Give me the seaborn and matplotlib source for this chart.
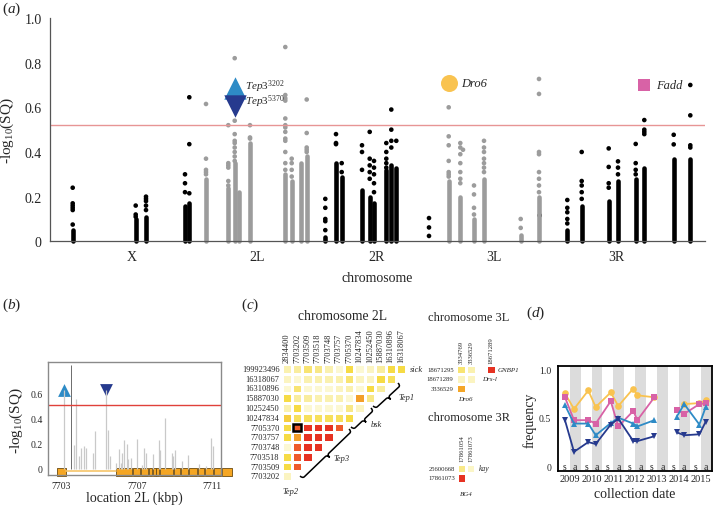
# -------- Imports --------
import numpy as np
import pandas as pd
import matplotlib
matplotlib.use("Agg")
import matplotlib.pyplot as plt
import seaborn as sns
from matplotlib.path import Path
from matplotlib.patches import PathPatch, Rectangle
from matplotlib.colors import LinearSegmentedColormap

sns.set_style("white")
plt.rcParams["font.family"] = ["Liberation Serif", "DejaVu Serif"]
plt.rcParams["mathtext.fontset"] = "custom"
plt.rcParams["mathtext.rm"] = "Liberation Serif"
plt.rcParams["mathtext.it"] = "Liberation Serif:italic"

# -------- Data: panel (a) genome scan --------
chrom_names = ["X", "2L", "2R", "3L", "3R"]
chrom_ticks = [82, 207, 327, 444, 566]
threshold = 0.52

# one entry per SNP column: position, colour group, top of the dense run, separate dots
col_x = [22.7, 85.7, 96, 135, 139.3, 156, 178.3, 184.7, 189.3, 200, 235.3, 241.7, 251.3, 256.7,
         275.3, 286, 291.7, 312, 319.7, 324, 336.3, 341.3, 346.3, 379, 398.7, 410.3, 413, 424,
         434, 470.7, 489, 489.7, 517.3, 531.7, 558.7, 568, 585.7, 594.3, 623.7, 640.3]
col_group = ["odd"] * 5 + ["even"] * 9 + ["odd"] * 10 + ["even"] * 7 + ["odd"] * 9
col_dense_top = [0.05, 0.10, 0.11, 0.16, 0.17, 0.28, 0.24, 0.35, 0.22, 0.44, 0.30, 0.27, 0.35, 0.38,
                 0.02, 0.35, 0.29, 0.23, 0.20, 0.17, 0.32, 0.34, 0.33, 0.0, 0.27, 0.20, 0.0, 0.10,
                 0.28, 0.03, 0.20, 0.0, 0.05, 0.16, 0.18, 0.27, 0.28, 0.33, 0.37, 0.37]
col_dots = [
    [0.24, 0.17, 0.16, 0.15, 0.14, 0.075],
    [0.16, 0.12, 0.11],
    [0.20, 0.19, 0.18, 0.16, 0.14],
    [0.30, 0.26, 0.22],
    [0.645, 0.435, 0.215],
    [0.615, 0.37, 0.32, 0.31, 0.30],
    [0.52, 0.35, 0.34, 0.33, 0.27, 0.25],
    [0.82, 0.54, 0.48, 0.45, 0.44, 0.42, 0.40, 0.38, 0.36],
    [],
    [0.52, 0.465, 0.46],
    [0.87, 0.655, 0.64, 0.63, 0.55, 0.52, 0.51, 0.49, 0.46, 0.45, 0.40, 0.35, 0.32],
    [0.37, 0.35, 0.32, 0.29],
    [],
    [0.635, 0.485, 0.42, 0.41, 0.40],
    [0.19, 0.15, 0.10, 0.09, 0.05],
    [0.48, 0.44, 0.435],
    [0.35, 0.31],
    [0.43, 0.40, 0.32],
    [0.49, 0.37, 0.34, 0.31, 0.28],
    [0.36, 0.33, 0.30, 0.26, 0.22],
    [0.44, 0.40, 0.37, 0.35, 0.33],
    [0.59, 0.50, 0.45, 0.42],
    [0.45],
    [0.104, 0.062, 0.024],
    [0.60, 0.47, 0.43, 0.36, 0.31, 0.30, 0.29],
    [0.44, 0.42, 0.39, 0.35, 0.31, 0.28, 0.26],
    [0.41],
    [0.25, 0.21, 0.15, 0.12],
    [0.45, 0.42, 0.40, 0.37, 0.35, 0.33, 0.31],
    [0.10, 0.06],
    [0.727, 0.66, 0.40, 0.39, 0.31, 0.28, 0.25, 0.22],
    [0.116],
    [0.185, 0.15, 0.13, 0.10, 0.08],
    [0.40, 0.27, 0.25, 0.22, 0.19],
    [0.416, 0.333, 0.26, 0.24],
    [0.358, 0.33, 0.30],
    [0.436, 0.35, 0.32, 0.30],
    [0.543, 0.50, 0.49, 0.48],
    [0.477, 0.434],
    [0.70, 0.564, 0.43, 0.42],
]

# highlighted candidate SNPs
hl_names = ["Tep3_3202", "Tep3_5370", "Dro6", "Fadd"]
hl_x = [184.7, 184.7, 398.7, 594.3]
hl_y = [0.686, 0.605, 0.71, 0.70]
hl_label_y = [0.695, 0.628, 0.71, 0.70]
hl_labels = [r"$\mathit{Tep3}^{3202}$", r"$\mathit{Tep3}^{5370}$", "Dro6", "Fadd"]

# -------- Data: panel (b) Tep3 region --------
b_pos = [7703.65, 7703.75, 7703.94, 7704.02, 7704.20, 7704.33, 7704.69, 7704.77, 7705.49, 7705.58,
         7705.90, 7706.05, 7706.16, 7706.23, 7706.30, 7706.48, 7706.53, 7706.70, 7707.00, 7707.30,
         7707.41, 7707.50, 7707.88, 7708.16, 7708.25, 7708.48, 7708.88, 7708.95, 7709.02, 7709.40,
         7709.70, 7710.30, 7710.69, 7710.96, 7711.05]
b_sq = [0.19, 0.56, 0.10, 0.17, 0.18, 0.17, 0.13, 0.30, 0.31, 0.10,
        0.05, 0.16, 0.05, 0.13, 0.23, 0.20, 0.08, 0.09, 0.24, 0.03,
        0.17, 0.13, 0.12, 0.23, 0.15, 0.41, 0.13, 0.10, 0.15, 0.06,
        0.11, 0.04, 0.02, 0.25, 0.18]
b_peak_pos = 7703.51
b_peak_sq = 0.83
b_tep3_pos = [7703.16, 7705.37]
b_tep3_sq = [0.63, 0.63]
exon_start = [7702.75, 7705.90, 7706.80, 7707.25, 7707.65, 7707.85, 7708.05, 7708.25, 7709.00,
              7709.35, 7709.80, 7710.25, 7710.65, 7711.10, 7711.55]
exon_end = [7703.25, 7706.75, 7707.20, 7707.60, 7707.80, 7708.00, 7708.20, 7708.95, 7709.30,
            7709.75, 7710.20, 7710.60, 7711.05, 7711.50, 7712.05]

# -------- Data: panel (c) linkage heatmaps --------
ld_2L_cols = ["2834400", "7703202", "7703509", "7703518", "7703748", "7703757", "7705370",
              "10247834", "10252450", "15887030", "16310896", "16318067"]
ld_2L_rows = ["199923496", "16318067", "16310896", "15887030", "10252450", "10247834",
              "7705370", "7703757", "7703748", "7703518", "7703509", "7703202"]
ld_2L = [
    [0.15, 0.20, 0.30, 0.25, 0.15, 0.05, 0.40, 0.05, 0.10, 0.20, 0.40, 0.40],
    [0.10, 0.05, 0.15, 0.15, 0.15, 0.15, 0.30, 0.10, 0.10, 0.40, 0.35],
    [0.05, 0.30, 0.05, 0.05, 0.05, 0.10, 0.15, 0.05, 0.40, 0.20],
    [0.40, 0.20, 0.20, 0.15, 0.15, 0.15, 0.05, 0.62, 0.25],
    [0.15, 0.40, 0.05, 0.05, 0.05, 0.05, 0.25, 0.10],
    [0.45, 0.35, 0.35, 0.35, 0.35, 0.35, 0.40],
    [0.40, 0.80, 0.95, 0.95, 0.95, 0.80],
    [0.40, 0.62, 0.95, 0.95, 0.95],
    [0.05, 0.80, 0.95, 0.95],
    [0.40, 0.80, 0.95],
    [0.40, 0.80],
    [0.10],
]
ld_3L_cols = ["3334769", "3336529", "", "18671289"]
ld_3L_rows = ["18671295", "18671289", "3336529"]
ld_3L = [[0.30, 0.15, np.nan, 0.95], [0.10, 0.10], [0.60]]
ld_3R_cols = ["17861054", "17861073"]
ld_3R_rows = ["25600668", "17861073"]
ld_3R = [[0.25, 0.08], [0.95]]

# -------- Data: panel (d) allele frequencies through time --------
sample_date = [0.06, 0.89, 2.2, 2.88, 4.26, 4.95, 6.33, 6.7, 8.26, 10.31, 11.0, 12.39, 12.97]
sample_block = ["2009-13"] * 9 + ["2014-15"] * 4
freq_dro6 = [0.75, 0.59, 0.78, 0.61, 0.76, 0.62, 0.80, 0.73, 0.71, np.nan, 0.64, 0.65, 0.68]
freq_fadd = [0.71, 0.475, 0.475, 0.44, 0.67, 0.41, 0.57, 0.475, 0.71, 0.58, 0.54, 0.64, 0.65]
freq_tep3_3202 = [0.63, 0.44, 0.44, 0.32, 0.445, 0.50, 0.44, 0.41, 0.475, 0.51, 0.64, 0.43, 0.61]
freq_tep3_5370 = [0.475, 0.15, 0.25, 0.23, 0.43, 0.49, 0.26, 0.26, 0.31, 0.35, 0.32, 0.33, 0.46]
years = ["2009", "2010", "2011", "2012", "2013", "2014", "2015"]
seasons = ["s", "a"] * 7

colors = {"Tep3_3202": "#2e8bc6", "Tep3_5370": "#263a8e", "Dro6": "#f9c350", "Fadd": "#d862a6"}
markers = {"Tep3_3202": "^", "Tep3_5370": "v", "Dro6": "o", "Fadd": "s"}

W, H = 713, 506
fig = plt.figure(figsize=(W / 100, H / 100), dpi=100)


def px_axes(x0, y0, x1, y1):
    # axes placed by pixel box (top-left origin)
    return fig.add_axes([x0 / W, 1 - y1 / H, (x1 - x0) / W, (y1 - y0) / H])


def panel_label(x, y, letter):
    fig.text(x / W, 1 - y / H, r"($\mathit{%s}$)" % letter, fontsize=11, ha="left", va="center")


# -------- Panel (a) --------
ax_a = px_axes(50, 19, 705, 242.3)
dots_df = pd.DataFrame(
    [(x, y, g) for x, g, ys in zip(col_x, col_group, col_dots) for y in ys],
    columns=["pos", "sq", "group"],
)
group_colors = {"odd": "black", "even": "#9c9c9c"}
ax_a.vlines(col_x, 0, col_dense_top, colors=[group_colors[g] for g in col_group],
            linewidth=3.3, capstyle="round", clip_on=False)
sns.scatterplot(data=dots_df, x="pos", y="sq", hue="group", palette=group_colors,
                s=11, linewidth=0, legend=False, ax=ax_a, clip_on=False)
ax_a.axhline(threshold, color="#e79595", lw=1)
hl_sizes = {"Tep3_3202": 260, "Tep3_5370": 260, "Dro6": 150, "Fadd": 80}
for name, x, y in zip(hl_names, hl_x, hl_y):
    sns.scatterplot(x=[x], y=[y], marker=markers[name], color=colors[name],
                    s=hl_sizes[name], linewidth=0, ax=ax_a)
for name, x, y, lab in zip(hl_names, hl_x, hl_label_y, hl_labels):
    off = 10 if name.startswith("Tep3") else 12
    ax_a.text(x + off, y, lab, fontsize=8 if name.startswith("Tep3") else 9,
              style="italic", ha="left", va="center")
ax_a.set_xlim(0, 655)
ax_a.set_ylim(0, 1)
ax_a.set_xticks(chrom_ticks)
ax_a.set_xticklabels(chrom_names)
ax_a.set_yticks([0, 0.2, 0.4, 0.6, 0.8, 1.0])
ax_a.set_yticklabels(["0", "0.2", "0.4", "0.6", "0.8", "1.0"])
ax_a.tick_params(labelsize=10, length=3, width=0.8, color="#555555", pad=3)
ax_a.set_xlabel("chromosome", fontsize=10, labelpad=6)
ax_a.set_ylabel(r"-log$_{10}$(SQ)", fontsize=11)
ax_a.yaxis.set_label_coords(-0.052, 0.5)
sns.despine(ax=ax_a)
for s in ["left", "bottom"]:
    ax_a.spines[s].set_color("#555555")
    ax_a.spines[s].set_linewidth(0.9)
panel_label(2, 9, "a")

# -------- Panel (b) --------
ax_b = px_axes(48.3, 362.7, 221, 476)
ax_b.vlines(b_pos, 0, b_sq, colors="#c9c9c9", linewidth=0.9)
ax_b.vlines(b_peak_pos, 0, b_peak_sq, colors="#555555", linewidth=0.6)
ax_b.vlines(b_tep3_pos, 0, b_tep3_sq, colors="#c9c9c9", linewidth=0.9)
ax_b.axhline(threshold - 0.005, color="#e0413a", lw=1)
for name, x, y in zip(["Tep3_3202", "Tep3_5370"], b_tep3_pos, b_tep3_sq):
    sns.scatterplot(x=[x], y=[y], marker=markers[name], color=colors[name],
                    s=85, linewidth=0, ax=ax_b)
ax_b.plot([exon_end[0], exon_start[1]], [-0.016, -0.016], color="#f6c56a", lw=1.2, clip_on=False)
ax_b.broken_barh([(s0, e0 - s0) for s0, e0 in zip(exon_start, exon_end)], (-0.058, 0.063),
                 facecolors="#f5a623", edgecolors="#6b4a10", linewidth=0.6, clip_on=False)
ax_b.set_xlim(7702.3, 7711.48)
ax_b.set_ylim(-0.048, 0.858)
ax_b.set_xticks([7703, 7707, 7711])
ax_b.set_yticks([0, 0.2, 0.4, 0.6])
ax_b.set_yticklabels(["0", "0.2", "0.4", "0.6"])
ax_b.tick_params(labelsize=7, length=2, pad=2)
ax_b.set_xlabel("location 2L (kbp)", fontsize=10, labelpad=1)
ax_b.set_ylabel(r"-log$_{10}$(SQ)", fontsize=11)
ax_b.yaxis.set_label_coords(-0.135, 0.49)
for s in ax_b.spines.values():
    s.set_color("#8a8a8a")
    s.set_linewidth(1)
panel_label(2, 305, "b")

# -------- Panel (c) --------
ld_cmap = LinearSegmentedColormap.from_list(
    "ld", ["#fdfbe2", "#f9ed9e", "#f6db45", "#f4a628", "#ee5a2a", "#e3261f"])


def to_matrix(rows, ncols):
    mat = np.full((len(rows), ncols), np.nan)
    for i, r in enumerate(rows):
        mat[i, :len(r)] = r
    return mat


def ld_heatmap(ax, values, col_labels, row_labels, fs):
    mat = to_matrix(values, len(col_labels))
    sns.heatmap(mat, cmap=ld_cmap, vmin=0, vmax=1, linewidths=1, linecolor="white", cbar=False,
                xticklabels=col_labels, yticklabels=row_labels, ax=ax)
    ax.xaxis.tick_top()
    ax.set_xticklabels(col_labels, rotation=90, fontsize=fs)
    ax.set_yticklabels(row_labels, rotation=0, fontsize=fs)
    ax.tick_params(length=0, pad=1.5)


def brace(ax, p0, p1, h, n):
    p0, p1, n = np.array(p0), np.array(p1), np.array(n)
    u = (p1 - p0) / np.linalg.norm(p1 - p0)
    mid = (p0 + p1) / 2
    d = 0.25
    verts = [p0, p0 + n * h, p0 + n * h + u * d, mid + n * h - u * d, mid + n * h, mid + n * 2 * h,
             mid + n * h, mid + n * h + u * d, p1 + n * h - u * d, p1 + n * h, p1]
    codes = [Path.MOVETO, Path.CURVE3, Path.CURVE3, Path.LINETO, Path.CURVE3, Path.CURVE3,
             Path.CURVE3, Path.CURVE3, Path.LINETO, Path.CURVE3, Path.CURVE3]
    ax.add_patch(PathPatch(Path(verts, codes), fill=False, lw=1.1, color="black", clip_on=False))


ax_c = px_axes(281.5, 365.1, 406.3, 482.2)
ld_heatmap(ax_c, ld_2L, ld_2L_cols, ld_2L_rows, 6)
ax_c.add_patch(Rectangle((1.1, 6.1), 0.8, 0.8, fill=False, lw=1.8, color="black", clip_on=False))
diag = (0.707, 0.707)
brace(ax_c, (1.78, 11.47), (6.49, 6.65), 0.35, diag)
brace(ax_c, (6.68, 6.44), (8.6, 4.5), 0.35, diag)
brace(ax_c, (8.8, 4.29), (11.2, 1.94), 0.35, diag)
for txt, x, y in [("Tep3", 5.0, 9.6), ("bsk", 8.6, 6.1), ("Tep1", 11.2, 3.4), ("sick", 12.3, 0.5),
                  ("Tep2", 0.1, 13.0)]:
    ax_c.text(x, y, txt, fontsize=6, style="italic", ha="left", va="center")
fig.text(343 / W, 1 - 317 / H, "chromosome 2L", fontsize=9.8, ha="center", va="center")
panel_label(241, 305, "c")

ax_3l = px_axes(455.7, 366, 495.7, 394)
ld_heatmap(ax_3l, ld_3L, ld_3L_cols, ld_3L_rows, 4.8)
ax_3l.text(4.2, 0.5, "GNBP1", fontsize=5, style="italic", ha="left", va="center")
ax_3l.text(2.6, 1.5, "Drs-l", fontsize=5, style="italic", ha="left", va="center")
ax_3l.text(0.2, 3.6, "Dro6", fontsize=5, style="italic", ha="left", va="center")
fig.text(469 / W, 1 - 318 / H, "chromosome 3L", fontsize=9, ha="center", va="center")

ax_3r = px_axes(457.2, 464.5, 475.2, 483.8)
ld_heatmap(ax_3r, ld_3R, ld_3R_cols, ld_3R_rows, 4.8)
ax_3r.text(2.4, 0.5, "kay", fontsize=5.5, style="italic", ha="left", va="center")
ax_3r.text(0.3, 3.1, "BG4", fontsize=5, style="italic", ha="left", va="center")
fig.text(469 / W, 1 - 418 / H, "chromosome 3R", fontsize=9, ha="center", va="center")

# -------- Panel (d) --------
ax_d = px_axes(558.3, 367.3, 711.5, 472.3)
for k in range(1, 14, 2):
    ax_d.axvspan(k - 0.5, k + 0.5, color="#dcdcdc", lw=0, zorder=0)
freq_df = pd.concat([
    pd.DataFrame({"date": sample_date, "block": sample_block, "freq": f, "allele": a})
    for a, f in [("Dro6", freq_dro6), ("Fadd", freq_fadd),
                 ("Tep3_3202", freq_tep3_3202), ("Tep3_5370", freq_tep3_5370)]
]).dropna()
sns.lineplot(data=freq_df, x="date", y="freq", hue="allele", style="allele", units="block",
             estimator=None, palette=colors, markers=markers, dashes=False, markersize=4.8,
             markeredgewidth=0, lw=1.3, legend=False, ax=ax_d)
for i, s in enumerate(seasons):
    ax_d.text(i, 0.0, s, fontsize=7, ha="center", va="center")
ax_d.set_xlim(-0.55, 13.5)
ax_d.set_ylim(-0.05, 1.028)
ax_d.set_xticks(np.arange(0.5, 13, 2))
ax_d.set_xticklabels(years)
ax_d.set_yticks([0, 0.5, 1.0])
ax_d.set_yticklabels(["0", "0.5", "1.0"])
ax_d.tick_params(axis="x", length=0, labelsize=7.5, pad=2)
ax_d.tick_params(axis="y", length=3, labelsize=7, pad=2)
ax_d.set_xlabel("collection date", fontsize=10, labelpad=3)
ax_d.set_ylabel("frequency", fontsize=10)
ax_d.yaxis.set_label_coords(-0.139, 0.5)
for s in ax_d.spines.values():
    s.set_color("black")
    s.set_linewidth(1.3)
panel_label(526, 313, "d")

fig.savefig("out.png", dpi=100)
